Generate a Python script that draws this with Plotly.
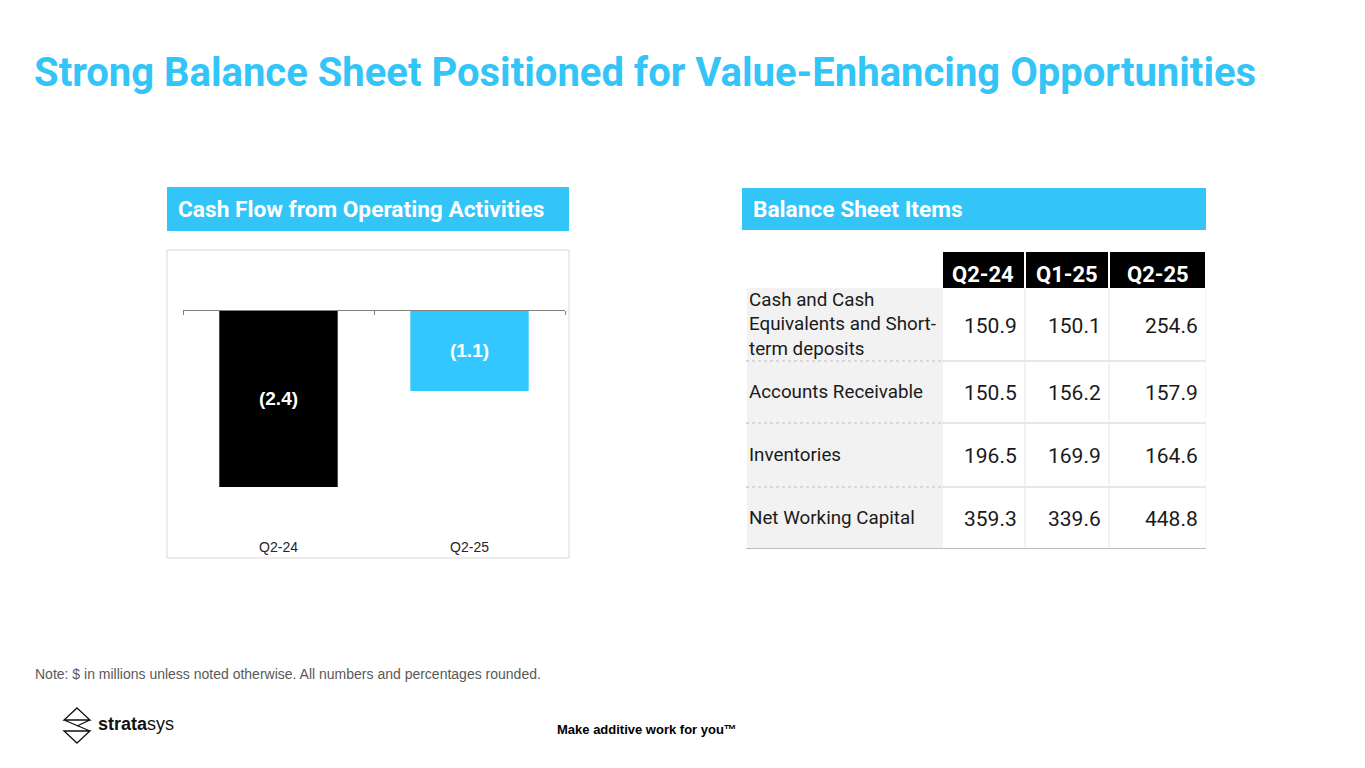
import plotly.graph_objects as go

# ---------------- data ----------------
cf_periods = ["Q2-24", "Q2-25"]
cf_values = [-2.4, -1.1]

bs_periods = ["Q2-24", "Q1-25", "Q2-25"]
bs_items = ["Cash and Cash<br>Equivalents and Short-<br>term deposits",
            "Accounts Receivable", "Inventories", "Net Working Capital"]
bs_q2_24 = [150.9, 150.5, 196.5, 359.3]
bs_q1_25 = [150.1, 156.2, 169.9, 339.6]
bs_q2_25 = [254.6, 157.9, 164.6, 448.8]

# ---------------- style / layout ----------------
W, H = 1365, 768
BLUE = "#33C4F8"
BAR_BLUE = "#33C7FF"
bar_colors = ["#000000", BAR_BLUE]


def X(px):
    return px / W


def Y(py):
    return 1 - py / H


# bar chart geometry (pixels)
ppu = 177 / 2.4
zero_px = 310
top_px, bot_px = 260, 537
y_range = [-(bot_px - zero_px) / ppu, (zero_px - top_px) / ppu]

# table geometry (pixel-like units inside the table axes)
col_widths = [196, 83, 84, 97]
row_heights = [36, 73, 62, 64, 62]
col_edges = [0]
for w in col_widths:
    col_edges.append(col_edges[-1] + w)
row_edges = [0]
for h in row_heights:
    row_edges.append(row_edges[-1] + h)
tbl_left, tbl_top = 746, 252

fig = go.Figure()

# ---- cash flow bars ----
fig.add_trace(go.Bar(
    x=cf_periods, y=cf_values,
    marker=dict(color=bar_colors, line=dict(width=0)),
    text=[f"({abs(v):.1f})" for v in cf_values],
    textposition="inside", insidetextanchor="middle",
    textfont=dict(family="Liberation Sans, Arial", size=19, color="white", weight="bold"),
    textangle=0,
    xaxis="x", yaxis="y", hoverinfo="skip", showlegend=False,
))
# invisible trace to carry the zero axis line
fig.add_trace(go.Scatter(
    x=cf_periods, y=[0] * len(cf_periods), mode="markers",
    marker=dict(opacity=0), xaxis="x2", yaxis="y",
    hoverinfo="skip", showlegend=False,
))

# ---- balance sheet table as heatmap ----
fill_codes = [[0] + [1] * len(bs_periods)]
for _ in bs_items:
    fill_codes.append([2] + [0] * len(bs_periods))
fig.add_trace(go.Heatmap(
    x=col_edges, y=row_edges, z=fill_codes,
    zmin=0, zmax=2,
    colorscale=[[0, "#ffffff"], [0.333, "#ffffff"], [0.333, "#000000"],
                [0.667, "#000000"], [0.667, "#f2f2f2"], [1, "#f2f2f2"]],
    showscale=False, xgap=2, hoverinfo="skip",
    xaxis="x3", yaxis="y3",
))

annotations = []
shapes = []

# header texts
for j, p in enumerate(bs_periods):
    cx = (col_edges[j + 1] + col_edges[j + 2]) / 2
    cy = (row_edges[0] + row_edges[1]) / 2 + 4
    annotations.append(dict(
        x=cx, y=cy, xref="x3", yref="y3", text=p, showarrow=False,
        xanchor="center", yanchor="middle",
        font=dict(family="Roboto", size=22, color="white", weight="bold")))

cols = [bs_q2_24, bs_q1_25, bs_q2_25]
for i, item in enumerate(bs_items):
    cy = (row_edges[i + 1] + row_edges[i + 2]) / 2
    annotations.append(dict(
        x=1, y=cy, xref="x3", yref="y3", text=item, showarrow=False,
        xanchor="left", yanchor="middle", align="left",
        font=dict(family="Roboto", size=18.8, color="#1a1a1a")))
    for j, col in enumerate(cols):
        annotations.append(dict(
            x=col_edges[j + 2] - 6, y=cy + 1, xref="x3", yref="y3",
            text=f"{col[i]:.1f}", showarrow=False,
            xanchor="right", yanchor="middle",
            font=dict(family="Roboto", size=21, color="#1a1a1a")))

# table rules
for k in range(2, len(row_edges) - 1):
    shapes.append(dict(type="line", xref="x3", yref="y3",
                       x0=col_edges[0], x1=col_edges[1], y0=row_edges[k], y1=row_edges[k],
                       line=dict(color="#bdbdbd", width=1, dash="dot")))
    shapes.append(dict(type="line", xref="x3", yref="y3",
                       x0=col_edges[1], x1=col_edges[-1], y0=row_edges[k], y1=row_edges[k],
                       line=dict(color="#cfcfcf", width=1)))
for k in range(1, len(col_edges)):
    shapes.append(dict(type="line", xref="x3", yref="y3",
                       x0=col_edges[k], x1=col_edges[k], y0=row_edges[1], y1=row_edges[-1],
                       line=dict(color="#e6e6e6", width=1)))
shapes.append(dict(type="line", xref="x3", yref="y3",
                   x0=col_edges[0], x1=col_edges[-1], y0=row_edges[-1], y1=row_edges[-1],
                   line=dict(color="#bdbdbd", width=2)))

# section header bars
shapes.append(dict(type="rect", xref="paper", yref="paper",
                   x0=X(167), x1=X(569), y0=Y(231), y1=Y(187),
                   fillcolor=BLUE, line=dict(width=0), layer="below"))
shapes.append(dict(type="rect", xref="paper", yref="paper",
                   x0=X(742), x1=X(1206), y0=Y(230), y1=Y(188),
                   fillcolor=BLUE, line=dict(width=0), layer="below"))
# chart frame
shapes.append(dict(type="rect", xref="paper", yref="paper",
                   x0=X(167), x1=X(569), y0=Y(558), y1=Y(250),
                   line=dict(color="#d9d9d9", width=1), fillcolor="rgba(0,0,0,0)"))

annotations.append(dict(x=X(176), y=Y(209), xref="paper", yref="paper",
                        text="Cash Flow from Operating Activities", showarrow=False,
                        xanchor="left", yanchor="middle",
                        font=dict(family="Roboto", size=22.7, color="white", weight="bold")))
annotations.append(dict(x=X(751), y=Y(209), xref="paper", yref="paper",
                        text="Balance Sheet Items", showarrow=False,
                        xanchor="left", yanchor="middle",
                        font=dict(family="Roboto", size=22.7, color="white", weight="bold")))

# title
annotations.append(dict(x=X(32), y=Y(72), xref="paper", yref="paper",
                        text="Strong Balance Sheet Positioned for Value-Enhancing Opportunities",
                        showarrow=False, xanchor="left", yanchor="middle",
                        font=dict(family="Roboto", size=40, color=BLUE, weight="bold")))
# note
annotations.append(dict(x=X(33), y=Y(674), xref="paper", yref="paper",
                        text="Note: $ in millions unless noted otherwise. All numbers and percentages rounded.",
                        showarrow=False, xanchor="left", yanchor="middle",
                        font=dict(family="Liberation Sans, Arial", size=14, color="#595959")))
# tagline
annotations.append(dict(x=X(555), y=Y(729), xref="paper", yref="paper",
                        text="Make additive work for you™", showarrow=False,
                        xanchor="left", yanchor="middle",
                        font=dict(family="Liberation Sans, Arial", size=13, color="#000000", weight="bold")))
# logo text
annotations.append(dict(x=X(96), y=Y(724), xref="paper", yref="paper",
                        text="<b>strata</b>sys", showarrow=False,
                        xanchor="left", yanchor="middle",
                        font=dict(family="Liberation Sans, Arial", size=18, color="#111111")))
# logo mark
logo_path = ("M {a},{b} L {c},{d} L {e},{d} Z M {a},{f} L {c},{g} L {e},{g} Z "
             "M {e},{d} L {c},{g} M {c},{d} L {a},{h}").format(
    a=X(77), b=Y(708), c=X(90), d=Y(720), e=X(64), f=Y(743), g=Y(731), h=Y(726))
shapes.append(dict(type="path", xref="paper", yref="paper", path=logo_path,
                   line=dict(color="#111111", width=1.3)))

fig.update_layout(
    width=W, height=H, margin=dict(l=0, r=0, t=0, b=0),
    paper_bgcolor="white", plot_bgcolor="rgba(0,0,0,0)",
    showlegend=False, bargap=0.38,
    xaxis=dict(domain=[X(183), X(565)], anchor="y", type="category",
               range=[-0.5, 1.5], showline=False, showgrid=False, zeroline=False,
               ticks="", tickfont=dict(family="Liberation Sans, Arial", size=14, color="#262626"),
               fixedrange=True),
    xaxis2=dict(overlaying="x", anchor="free", position=Y(zero_px), side="bottom",
                type="category", range=[-0.5, 1.5], showline=True, linecolor="#808080",
                linewidth=1, ticks="outside", ticklen=4, tickcolor="#808080",
                tickson="boundaries", showticklabels=False, showgrid=False, zeroline=False),
    yaxis=dict(domain=[Y(bot_px), Y(top_px)], range=y_range, visible=False,
               showgrid=False, zeroline=False),
    xaxis3=dict(domain=[X(tbl_left), X(tbl_left + col_edges[-1])], anchor="y3",
                range=[col_edges[0], col_edges[-1]], visible=False, showgrid=False),
    yaxis3=dict(domain=[Y(tbl_top + row_edges[-1]), Y(tbl_top)], anchor="x3",
                range=[row_edges[-1], row_edges[0]], visible=False, showgrid=False),
    annotations=annotations, shapes=shapes,
)

fig.write_html("out.html", config={"displayModeBar": False},
               post_script="document.body.style.margin='0';")
